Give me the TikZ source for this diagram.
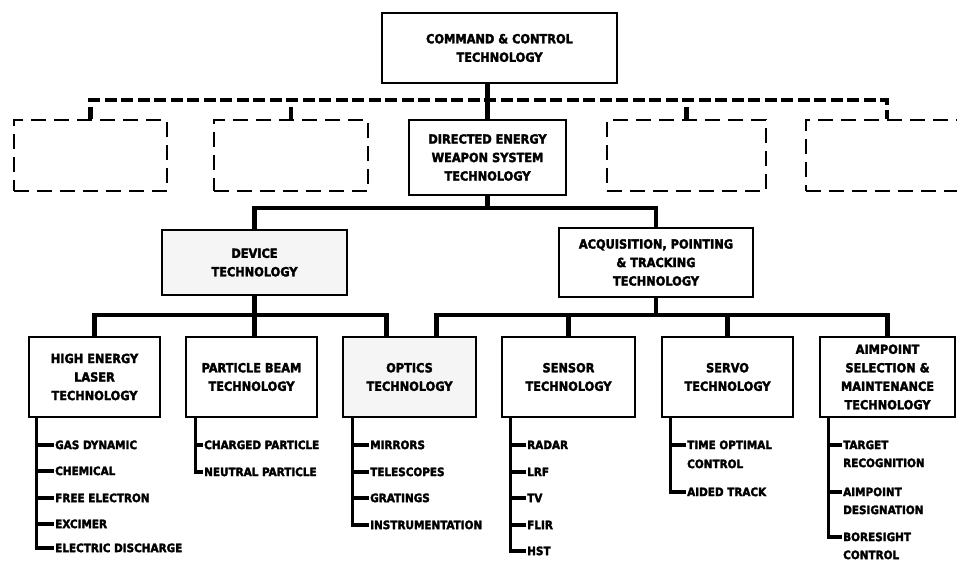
\documentclass[tikz,border=0pt]{standalone}
\usepackage{fontspec}
\setmainfont{DejaVu Sans Condensed}[BoldFeatures={FakeBold=2.4}]
\usetikzlibrary{calc}
\begin{document}
\begin{tikzpicture}[x=1pt,y=-1pt,
  box/.style={draw, line width=2.9pt, fill=white, align=center, inner sep=0pt,
    font=\fontsize{12.6}{18.5}\selectfont\bfseries},
  shaded/.style={fill=black!4},
  ghost/.style={draw, line width=2.8pt, dash pattern=on 15pt off 8pt},
  link/.style={line width=4.2pt},
  dlink/.style={line width=4.8pt, dash pattern=on 12pt off 4.5pt},
  item/.style={anchor=west, inner xsep=1pt, inner ysep=0pt, text height=8.2pt,
    text depth=0pt, font=\fontsize{11.6}{17}\selectfont\bfseries},
  tick/.style={line width=3.8pt},
]
\fill[white] (0,0) rectangle (957,565);
\useasboundingbox (0,0) rectangle (957,565);

% ---- top levels ----
\node[box, minimum width=235pt, minimum height=70pt] (cc) at (499.5,48)
  {COMMAND \& CONTROL\\TECHNOLOGY};
\node[box, minimum width=157pt, minimum height=75pt] (dew) at (487.5,157.5)
  {DIRECTED ENERGY\\WEAPON SYSTEM\\TECHNOLOGY};

% sibling systems left open
\node[ghost, minimum width=153pt, minimum height=71pt] (d1) at (90.5,155.5) {};
\node[ghost, minimum width=154pt, minimum height=71pt] (d2) at (291,155.5) {};
\node[ghost, minimum width=159pt, minimum height=71pt] (d4) at (686.5,155.5) {};
\node[ghost, minimum width=162pt, minimum height=71pt] (d5) at (887,155.5) {};
\coordinate (dbus) at (0,100);

\draw[dlink] (d1.north) -- (d1.north |- dbus) -- (d5.north |- dbus) -- (d5.north);
\draw[dlink] (d2.north) -- (d2.north |- dbus);
\draw[dlink] (d4.north) -- (d4.north |- dbus);
\draw[link] (cc.south -| dew.north) -- (dew.north);

% ---- second level ----
\node[box, shaded, minimum width=185pt, minimum height=65pt] (dev) at (254.5,262.5)
  {DEVICE\\TECHNOLOGY};
\node[box, minimum width=194pt, minimum height=69pt] (apt) at (656,262.5)
  {ACQUISITION, POINTING\\\& TRACKING\\TECHNOLOGY};
\coordinate (bus2) at (0,208);
\draw[link] (dev.north) -- (dev.north |- bus2) -- (apt.north |- bus2) -- (apt.north);
\draw[link] (dew.south) -- (dew.south |- bus2);

% ---- third level ----
\node[box, minimum width=131pt, minimum height=80pt] (hel) at (94.5,377)
  {HIGH ENERGY\\LASER\\TECHNOLOGY};
\node[box, minimum width=131pt, minimum height=80pt] (pb) at (251.5,377)
  {PARTICLE BEAM\\TECHNOLOGY};
\node[box, shaded, minimum width=133pt, minimum height=80pt] (opt) at (409.5,377)
  {OPTICS\\TECHNOLOGY};
\node[box, minimum width=133pt, minimum height=80pt] (sen) at (568.5,377)
  {SENSOR\\TECHNOLOGY};
\node[box, minimum width=131pt, minimum height=80pt] (srv) at (727.5,377)
  {SERVO\\TECHNOLOGY};
\node[box, minimum width=135pt, minimum height=80pt] (aim) at (887.5,377)
  {AIMPOINT\\SELECTION \&\\MAINTENANCE\\TECHNOLOGY};

\coordinate (bus3) at (0,315);
\coordinate (optL) at ($(opt.north)+(-23,0)$);
\coordinate (optR) at ($(opt.north)+(27,0)$);
\draw[link] (hel.north) -- (hel.north |- bus3) -- (optL |- bus3) -- (optL);
\draw[link] (dev.south) -- (dev.south |- pb.north);
\draw[link] (optR) -- (optR |- bus3) -- (aim.north |- bus3) -- (aim.north);
\draw[link] (apt.south) -- (apt.south |- bus3);
\draw[link] (sen.north) -- (sen.north |- bus3);
\draw[link] (srv.north) -- (srv.north |- bus3);

% ---- item lists ----
\node[item] (hel1) at (54,445) {GAS DYNAMIC};
\node[item] (hel2) at (54,471) {CHEMICAL};
\node[item] (hel3) at (54,498) {FREE ELECTRON};
\node[item] (hel4) at (54,524) {EXCIMER};
\node[item] (hel5) at (54,548) {ELECTRIC DISCHARGE};

\node[item] (pb1) at (203,445) {CHARGED PARTICLE};
\node[item] (pb2) at (203,472) {NEUTRAL PARTICLE};

\node[item] (opt1) at (369,445) {MIRRORS};
\node[item] (opt2) at (369,472) {TELESCOPES};
\node[item] (opt3) at (369,498) {GRATINGS};
\node[item] (opt4) at (369,525) {INSTRUMENTATION};

\node[item] (sen1) at (526,445) {RADAR};
\node[item] (sen2) at (526,472) {LRF};
\node[item] (sen3) at (526,498) {TV};
\node[item] (sen4) at (526,525) {FLIR};
\node[item] (sen5) at (526,551) {HST};

\node[item] (srv1) at (686,445) {TIME OPTIMAL};
\node[item] (srv1b) at (686,464) {CONTROL};
\node[item] (srv2) at (686,492) {AIDED TRACK};

\node[item] (aim1) at (842,445) {TARGET};
\node[item] (aim1b) at (842,463) {RECOGNITION};
\node[item] (aim2) at (842,492) {AIMPOINT};
\node[item] (aim2b) at (842,510) {DESIGNATION};
\node[item] (aim3) at (842,537) {BORESIGHT};
\node[item] (aim3b) at (842,555) {CONTROL};

% spines running down from each box, with a tick to every entry
\coordinate (helS) at ($(hel.south west)+(9,0)$);
\coordinate (pbS)  at ($(pb.south west)+(11,0)$);
\coordinate (optS) at ($(opt.south west)+(11,0)$);
\coordinate (senS) at ($(sen.south west)+(10,0)$);
\coordinate (srvS) at ($(srv.south west)+(10,0)$);
\coordinate (aimS) at ($(aim.south west)+(10,0)$);

\draw[tick] (helS) |- (hel5.west);
\foreach \n in {hel1,hel2,hel3,hel4} \draw[tick] (\n.west) -- (\n.west -| helS);
\draw[tick] (pbS) |- (pb2.west);
\draw[tick] (pb1.west) -- (pb1.west -| pbS);
\draw[tick] (optS) |- (opt4.west);
\foreach \n in {opt1,opt2,opt3} \draw[tick] (\n.west) -- (\n.west -| optS);
\draw[tick] (senS) |- (sen5.west);
\foreach \n in {sen1,sen2,sen3,sen4} \draw[tick] (\n.west) -- (\n.west -| senS);
\draw[tick] (srvS) |- (srv2.west);
\draw[tick] (srv1.west) -- (srv1.west -| srvS);
\draw[tick] (aimS) |- (aim3.west);
\foreach \n in {aim1,aim2} \draw[tick] (\n.west) -- (\n.west -| aimS);
\end{tikzpicture}
\end{document}
